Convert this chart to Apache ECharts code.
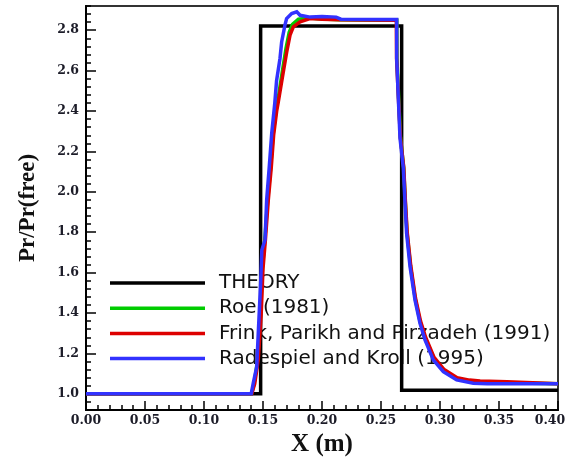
<!DOCTYPE html>
<html>
<head>
<meta charset="utf-8">
<script src="https://cdn.jsdelivr.net/npm/echarts@6/dist/echarts.min.js"></script>
<style>
  html, body { margin: 0; padding: 0; background: #fff; }
  #chart { width: 568px; height: 457px; }
</style>
</head>
<body>
<div id="chart"></div>
<script>
// Pressure ratio along the ramp: theory vs. three flux schemes
const seriesNames = ['THEORY', 'Roe (1981)', 'Frink, Parikh and Pirzadeh (1991)', 'Radespiel and Kroll (1995)'];

const theoryX = [0, 0.148, 0.148, 0.2675, 0.2675, 0.40];
const theoryY = [1.0, 1.0, 2.821, 2.821, 1.018, 1.018];

const roeX = [0, 0.1403, 0.1425, 0.1455, 0.148, 0.1495, 0.1515, 0.154, 0.1565, 0.1585, 0.161, 0.1625, 0.1665, 0.1695, 0.1722, 0.175, 0.180, 0.189, 0.200, 0.215, 0.2634, 0.2635, 0.2650, 0.2665, 0.2692, 0.2706, 0.2720, 0.2750, 0.2790, 0.2832, 0.2876, 0.2948, 0.3032, 0.3143, 0.325, 0.334, 0.355, 0.40];
const roeY = [1.0, 1.0, 1.05, 1.17, 1.40, 1.62, 1.76, 1.96, 2.12, 2.28, 2.40, 2.45, 2.60, 2.71, 2.79, 2.83, 2.855, 2.860, 2.856, 2.852, 2.85, 2.66, 2.46, 2.27, 2.12, 1.95, 1.80, 1.633, 1.47, 1.355, 1.275, 1.175, 1.115, 1.075, 1.062, 1.058, 1.055, 1.05];

const frinkX = [0, 0.1405, 0.143, 0.146, 0.1485, 0.150, 0.152, 0.1545, 0.157, 0.159, 0.1616, 0.163, 0.1672, 0.1701, 0.1729, 0.1757, 0.1814, 0.1898, 0.200, 0.215, 0.2630, 0.2632, 0.2648, 0.2664, 0.2693, 0.2707, 0.2722, 0.2752, 0.2792, 0.2835, 0.2878, 0.295, 0.3035, 0.3145, 0.325, 0.334, 0.357, 0.40];
const frinkY = [1.0, 1.0, 1.05, 1.17, 1.40, 1.62, 1.76, 1.96, 2.12, 2.28, 2.40, 2.446, 2.594, 2.693, 2.776, 2.817, 2.842, 2.858, 2.855, 2.852, 2.85, 2.66, 2.46, 2.27, 2.12, 1.95, 1.80, 1.635, 1.475, 1.36, 1.28, 1.18, 1.12, 1.08, 1.068, 1.064, 1.06, 1.05];

const radX = [0, 0.140, 0.1418, 0.1447, 0.146, 0.148, 0.149, 0.1517, 0.1531, 0.1553, 0.1574, 0.160, 0.1615, 0.1644, 0.1658, 0.1686, 0.170, 0.1743, 0.1786, 0.1814, 0.190, 0.200, 0.212, 0.216, 0.2633, 0.2633, 0.2647, 0.2661, 0.2689, 0.2703, 0.2717, 0.2746, 0.2788, 0.283, 0.2873, 0.2943, 0.3028, 0.3141, 0.3282, 0.34, 0.40];
const radY = [1.0, 1.0, 1.054, 1.135, 1.302, 1.549, 1.712, 1.762, 1.959, 2.124, 2.291, 2.44, 2.55, 2.66, 2.742, 2.825, 2.858, 2.883, 2.891, 2.874, 2.865, 2.868, 2.865, 2.855, 2.853, 2.66, 2.462, 2.266, 2.118, 1.951, 1.795, 1.63, 1.465, 1.35, 1.267, 1.168, 1.11, 1.069, 1.053, 1.05, 1.05];

const yLabelValues = [1.0, 1.2, 1.4, 1.6, 1.8, 2.0, 2.2, 2.4, 2.6, 2.8];
const colors = ['#000000', '#00cc00', '#dd0000', '#3232ff'];

const pairs = (xs, ys) => xs.map((x, i) => [x, ys[i]]);
const tickFont = { fontFamily: 'DejaVu Serif', fontWeight: 'bold', fontSize: 12.5, color: '#1c1c28' };

const chart = echarts.init(document.getElementById('chart'), null, { renderer: 'canvas' });

const makeLine = (name, xs, ys, color) => ({
  name: name,
  type: 'line',
  data: pairs(xs, ys),
  symbol: 'none',
  showSymbol: false,
  animation: false,
  z: 3,
  lineStyle: { color: color, width: 3.5, join: 'miter' },
  itemStyle: { color: color }
});

chart.setOption({
  backgroundColor: '#ffffff',
  animation: false,
  grid: {
    left: 86, right: 10, top: 6, bottom: 47,
    outerBoundsMode: 'none', containLabel: false,
    show: true, borderColor: '#333', borderWidth: 2, backgroundColor: 'transparent'
  },
  legend: {
    orient: 'vertical',
    left: 110, top: 273, padding: 0,
    itemWidth: 95, itemHeight: 3.5, itemGap: 5.2,
    icon: 'rect',
    z: 1,
    data: seriesNames,
    textStyle: { fontFamily: 'DejaVu Sans', fontSize: 20, color: '#111', padding: [0, 0, 0, 9] }
  },
  xAxis: {
    type: 'value', min: 0, max: 0.40, interval: 0.05,
    name: 'X (m)', nameLocation: 'middle', nameGap: 12,
    nameTextStyle: { fontFamily: 'Liberation Serif', fontWeight: 'bold', fontSize: 25, color: '#111' },
    axisLine: { show: true, onZero: false, lineStyle: { color: '#000', width: 2 } },
    axisTick: { show: true, inside: true, length: 9, lineStyle: { color: '#000', width: 1.5 } },
    minorTick: { show: true, splitNumber: 5, length: 5, lineStyle: { color: '#000', width: 1.5 } },
    axisLabel: Object.assign({
      margin: 4,
      // the last label is nudged left so it stays inside the canvas
      formatter: v => (v >= 0.4 ? '{edge|' + v.toFixed(2) + '}' : v.toFixed(2)),
      rich: { edge: Object.assign({ padding: [0, 16, 0, 0] }, tickFont) }
    }, tickFont),
    splitLine: { show: false }
  },
  yAxis: [
    {
      // fine ticks every 0.04
      type: 'value', min: 0.92, max: 2.92, interval: 0.04,
      axisLine: { show: true, onZero: false, lineStyle: { color: '#000', width: 2 } },
      axisTick: { show: true, inside: true, length: 5, lineStyle: { color: '#000', width: 1.5 } },
      axisLabel: { show: false },
      splitLine: { show: false }
    },
    {
      // labelled major ticks every 0.2
      type: 'value', min: 0.92, max: 2.92, position: 'left',
      name: 'Pr/Pr(free)', nameLocation: 'middle', nameGap: 46, nameRotate: 90,
      nameTextStyle: { fontFamily: 'Liberation Serif', fontWeight: 'bold', fontSize: 23, color: '#111' },
      axisLine: { show: false },
      axisTick: { show: true, inside: true, length: 10, customValues: yLabelValues, lineStyle: { color: '#000', width: 1.5 } },
      axisLabel: Object.assign({ margin: 7, customValues: yLabelValues, formatter: v => v.toFixed(1) }, tickFont),
      splitLine: { show: false }
    }
  ],
  series: [
    makeLine(seriesNames[0], theoryX, theoryY, colors[0]),
    makeLine(seriesNames[1], roeX, roeY, colors[1]),
    makeLine(seriesNames[2], frinkX, frinkY, colors[2]),
    makeLine(seriesNames[3], radX, radY, colors[3])
  ]
});
</script>
</body>
</html>
